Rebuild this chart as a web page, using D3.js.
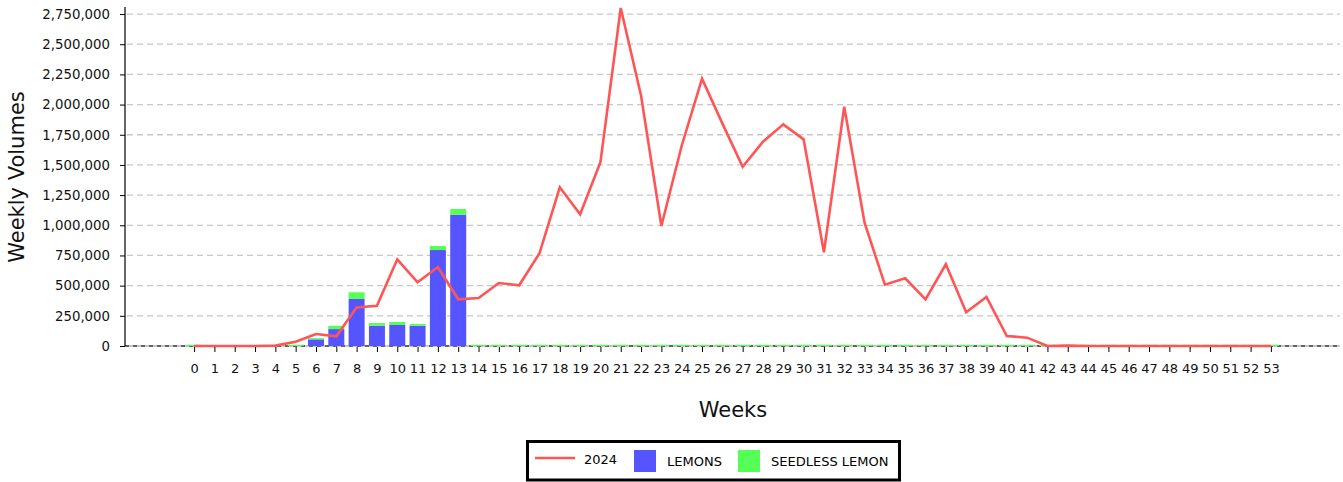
<!DOCTYPE html>
<html>
<head>
<meta charset="utf-8">
<script src="https://cdn.jsdelivr.net/npm/d3@7"></script>
<style>
  body { margin: 0; background: #fff; }
  text { font-family: "DejaVu Sans", sans-serif; }
</style>
</head>
<body>
<div id="chart"></div>
<script>
// weeks 0..53
var weeks = d3.range(0, 54)

// 2024 line volumes per week
var volumes2024 = [
  0, 0, 0, 0, 3000, 36000, 99000, 80000, 320000, 334000,
  718000, 528000, 654000, 387000, 398000, 522000, 503000, 768000, 1315000, 1091000,
  1522000, 2800000, 2073000, 994000, 1659000, 2214000, 1844000, 1485000, 1692000, 1836000,
  1712000, 776000, 1982000, 1021000, 508000, 561000, 387000, 677000, 279000, 406000,
  83000, 69000, 0, 3000, 0, 0, 0, 0, 0, 0,
  0, 0, 0, 0
]

// stacked bars
var lemons = [
  0, 0, 0, 0, 0, 0, 55000, 140000, 390000, 168000,
  174000, 168000, 795000, 1088000
]
var seedless = [
  10000, 0, 0, 0, 0, 10000, 10000, 27000, 55000, 22000,
  25000, 14000, 33000, 47000
]
// later weeks only have a trace of seedless lemons
var seedlessLate = 10000

var yTicks = d3.range(0, 2750001, 250000)

var width = 1343,
    height = 482,
    plotLeft = 125,
    plotRight = 1340,
    plotTop = 8,
    plotBottom = 346

var svg = d3.select("#chart")
  .append("svg")
  .attr("width", width)
  .attr("height", height)

var x = d3.scaleLinear().domain([-3.4, 56.4]).range([plotLeft, plotRight])
var y = d3.scaleLinear().domain([0, 2800000]).range([plotBottom, plotTop])
var barW = 16

// grid lines
svg.append("g")
  .selectAll("line")
  .data(yTicks)
  .enter().append("line")
  .attr("x1", plotLeft + 2)
  .attr("x2", plotRight)
  .attr("y1", function(d) { return y(d) })
  .attr("y2", function(d) { return y(d) })
  .attr("stroke", "#c8c8c8")
  .attr("stroke-width", 1.3)
  .attr("stroke-dasharray", "6,4")

// bar data
var barData = weeks.map(function(w) {
  var l = w < lemons.length ? lemons[w] : 0
  var s = w < seedless.length ? seedless[w] : seedlessLate
  return { week: w, lemons: l, seedless: s }
})
var stack = d3.stack().keys(["lemons", "seedless"])(barData)
var colors = { lemons: "#5555ff", seedless: "#55ff55" }

// x axis baseline
svg.append("line")
  .attr("x1", plotLeft).attr("x2", plotRight)
  .attr("y1", plotBottom).attr("y2", plotBottom)
  .attr("stroke", "#c8c8c8").attr("stroke-width", 2)
svg.append("line")
  .attr("x1", plotLeft).attr("x2", plotRight)
  .attr("y1", plotBottom).attr("y2", plotBottom)
  .attr("stroke", "#000").attr("stroke-width", 1)
  .attr("stroke-dasharray", "4,4")

svg.append("g")
  .selectAll("g")
  .data(stack)
  .enter().append("g")
  .attr("fill", function(d) { return colors[d.key] })
  .selectAll("rect")
  .data(function(d) { return d.filter(function(p) { return p[1] > p[0] }) })
  .enter().append("rect")
  .attr("x", function(d) { return x(d.data.week) - barW / 2 })
  .attr("width", barW)
  .attr("y", function(d) { return y(d[1]) })
  .attr("height", function(d) { return y(d[0]) - y(d[1]) })

// line
var line = d3.line()
  .x(function(d, i) { return x(i) })
  .y(function(d) { return y(d) })

svg.append("path")
  .datum(volumes2024)
  .attr("fill", "none")
  .attr("stroke", "#ff5555")
  .attr("stroke-width", 2.6)
  .attr("d", line)

// x axis ticks
var xAxis = svg.append("g")
  .attr("transform", "translate(0," + (plotBottom + 1) + ")")
  .call(d3.axisBottom(x).tickValues(weeks).tickFormat(d3.format("d")).tickSize(5).tickPadding(12))
xAxis.select(".domain").remove()
xAxis.selectAll("text").attr("font-size", "13px").attr("font-family", "DejaVu Sans").attr("fill", "#111")

// y axis
var yAxis = svg.append("g")
  .attr("transform", "translate(" + plotLeft + ",0)")
  .call(d3.axisLeft(y).tickValues(yTicks).tickFormat(d3.format(",")).tickSize(5).tickPadding(10))
yAxis.select(".domain").remove()
yAxis.selectAll("text").attr("font-size", "13.3px").attr("font-family", "DejaVu Sans").attr("fill", "#111")
svg.append("line")
  .attr("x1", plotLeft).attr("x2", plotLeft)
  .attr("y1", plotTop - 1).attr("y2", plotBottom)
  .attr("stroke", "#000").attr("stroke-width", 1.2)

// axis titles
svg.append("text")
  .attr("transform", "translate(24,177) rotate(-90)")
  .attr("text-anchor", "middle")
  .attr("font-size", "21px")
  .attr("fill", "#111")
  .text("Weekly Volumes")

svg.append("text")
  .attr("x", 733)
  .attr("y", 417)
  .attr("text-anchor", "middle")
  .attr("font-size", "21px")
  .attr("fill", "#111")
  .text("Weeks")

// legend
var legend = svg.append("g")
legend.append("rect")
  .attr("x", 527.5).attr("y", 441.5)
  .attr("width", 372).attr("height", 38.5)
  .attr("fill", "#fff").attr("stroke", "#000").attr("stroke-width", 3)
legend.append("line")
  .attr("x1", 535).attr("x2", 575)
  .attr("y1", 458).attr("y2", 458)
  .attr("stroke", "#ff5555").attr("stroke-width", 2.6)
legend.append("text").attr("x", 584).attr("y", 464).attr("font-size", "13px").text("2024")
legend.append("rect").attr("x", 634).attr("y", 450).attr("width", 22).attr("height", 22).attr("fill", colors.lemons)
legend.append("text").attr("x", 667).attr("y", 466).attr("font-size", "13px").text("LEMONS")
legend.append("rect").attr("x", 738).attr("y", 450).attr("width", 22).attr("height", 22).attr("fill", colors.seedless)
legend.append("text").attr("x", 771).attr("y", 466).attr("font-size", "13px").text("SEEDLESS LEMON")
</script>
</body>
</html>
